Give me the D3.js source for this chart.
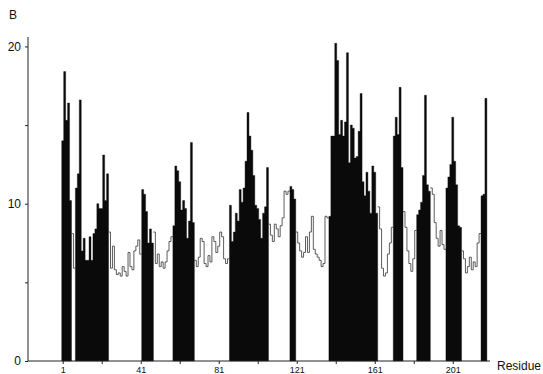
<!DOCTYPE html>
<html>
<head>
<meta charset="utf-8">
<script src="https://cdn.jsdelivr.net/npm/d3@7"></script>
<style>
  html, body { margin: 0; padding: 0; background: #fff; }
  svg { display: block; }
  text { font-family: "Liberation Sans", Arial, sans-serif; fill: #111; }
</style>
</head>
<body>
<svg id="chart" width="543" height="374"></svg>
<script>
// B-factor per residue (residue number = index + 1)
const bFactor = [
  14.0,18.4,15.3,16.4,10.2,8.1,5.9,11.0,11.9,16.6,
  7.0,7.8,6.4,6.4,7.9,6.4,8.1,8.4,10.0,9.7,
  9.7,13.1,10.2,11.9,8.2,5.9,7.3,5.8,5.5,5.6,
  5.4,6.0,5.7,5.4,6.9,6.0,5.8,7.0,7.3,7.7,
  6.8,10.9,10.6,9.5,7.5,8.4,7.5,8.2,6.2,6.8,
  6.0,6.3,5.9,6.3,7.0,7.6,7.9,8.6,12.4,12.1,
  11.4,9.6,10.2,9.7,7.8,8.9,13.9,8.8,6.4,6.0,
  6.6,7.8,7.6,6.2,6.0,6.7,6.3,7.9,7.6,6.9,
  7.3,8.2,7.9,6.5,6.2,6.5,9.9,7.6,8.2,9.4,
  8.9,10.9,10.1,11.0,12.7,15.8,14.3,13.4,11.8,9.9,
  9.7,9.0,7.8,9.4,9.8,12.3,8.7,8.0,7.6,8.7,
  8.4,7.9,8.6,9.1,10.8,10.6,10.8,11.1,10.9,10.3,
  8.2,7.5,7.0,6.6,6.9,7.9,6.9,8.2,9.2,7.1,
  6.8,6.6,6.4,6.0,6.2,9.2,9.1,9.2,14.3,14.3,
  20.2,19.1,14.4,15.3,14.3,15.2,19.6,12.6,15.0,14.8,
  12.9,13.0,14.6,17.0,11.4,10.5,12.0,10.8,9.4,12.4,
  12.0,9.4,9.8,8.4,5.9,5.4,5.6,6.8,7.5,8.5,
  14.3,15.5,14.4,17.4,12.3,9.5,8.5,7.0,6.2,5.7,
  6.5,8.3,9.3,9.6,10.1,11.8,16.9,11.2,10.8,11.0,
  10.6,8.8,7.8,7.3,8.3,7.4,7.1,11.0,11.7,12.5,
  15.5,12.7,11.2,8.6,8.5,7.0,6.5,5.6,6.0,6.6,
  5.8,6.3,6.0,7.5,8.1,10.5,10.6,16.7
];

// residue ranges drawn as filled bars
const filledRanges = [
  [1,5],[8,24],[42,47],[58,68],[87,106],[118,120],
  [138,162],[171,175],[183,189],[198,205],[216,218]
];

// residue ranges drawn as outline step line
const outlineRanges = [
  [6,7],[25,41],[48,57],[69,86],[107,117],[121,137],
  [163,170],[176,182],[190,197],[206,215]
];

const xTickValues = [1,21,41,61,81,101,121,141,161,181,201];
const xTickLabels = ["1","41","81","121","161","201"];
const yTickValues = [0,5,10,15,20];
const yTickLabels = ["0","10","20"];
const yTitle = "B";
const xTitle = "Residue";

const svg = d3.select("#chart");

const x = d3.scaleLinear().domain([-16.8, 220.1]).range([28, 490]);
const y = d3.scaleLinear().domain([0, 20.6]).range([361, 37]);

const val = r => bFactor[r - 1];

// filled bar blocks (solid step areas)
const stepArea = d3.area()
  .x(d => x(d[0]))
  .y0(y(0))
  .y1(d => y(d[1]))
  .curve(d3.curveStepAfter);

filledRanges.forEach(([a, b]) => {
  const pts = [];
  for (let r = a; r <= b; r++) pts.push([r - 0.5, val(r)]);
  pts.push([b + 0.5, val(b)]);
  svg.append("path")
    .attr("d", stepArea(pts))
    .attr("fill", "#0a0a0a")
    .attr("stroke", "#0a0a0a")
    .attr("stroke-width", 0.4);
});

// outline step lines
const stepLine = d3.line()
  .x(d => x(d[0]))
  .y(d => y(d[1]))
  .curve(d3.curveStepAfter);

outlineRanges.forEach(([a, b]) => {
  const pts = [];
  for (let r = a; r <= b; r++) pts.push([r - 0.5, val(r)]);
  pts.push([b + 0.5, val(b)]);
  svg.append("path")
    .attr("d", stepLine(pts))
    .attr("fill", "none")
    .attr("stroke", "#333")
    .attr("stroke-width", 0.8);
});

// axes
const xAxis = d3.axisBottom(x)
  .tickValues(xTickValues)
  .tickSize(3)
  .tickFormat(d => xTickLabels.includes(String(d)) ? String(d) : "");

const gx = svg.append("g").attr("transform", `translate(0,${y(0)})`).call(xAxis);
gx.select(".domain").attr("d", `M${x.range()[0]},0H${x.range()[1]}`).attr("stroke", "#222");
gx.selectAll(".tick line").attr("stroke", "#222");
gx.selectAll(".tick text")
  .attr("y", 12)
  .attr("dy", null)
  .style("font-size", "9px")
  .style("font-family", "Liberation Sans, Arial, sans-serif")
  .attr("fill", "#111");

const yAxis = d3.axisLeft(y)
  .tickValues(yTickValues)
  .tickSize(3)
  .tickFormat(d => yTickLabels.includes(String(d)) ? String(d) : "");

const gy = svg.append("g").attr("transform", `translate(${x.range()[0]},0)`).call(yAxis);
gy.select(".domain").attr("d", `M0,${y.range()[0]}V${y.range()[1]}`).attr("stroke", "#222");
gy.selectAll(".tick line").attr("stroke", "#222");
gy.selectAll(".tick text")
  .attr("x", -7)
  .style("font-size", "12px")
  .style("font-family", "Liberation Sans, Arial, sans-serif")
  .attr("fill", "#111");

svg.append("text")
  .attr("x", 13).attr("y", 19)
  .attr("text-anchor", "middle")
  .style("font-size", "12px")
  .text(yTitle);

svg.append("text")
  .attr("x", 497).attr("y", 370)
  .style("font-size", "12px")
  .text(xTitle);
</script>
</body>
</html>
